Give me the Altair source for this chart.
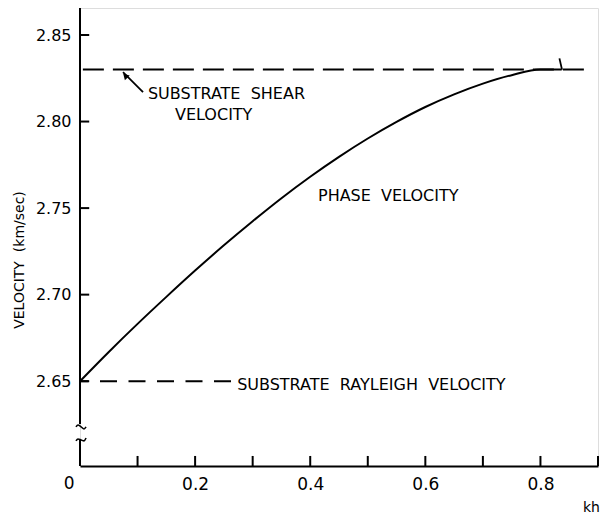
import altair as alt
import pandas as pd

FONT = "DejaVu Sans"

# Phase-velocity dispersion curve (kh vs. km/sec)
kh = [0.0, 0.05, 0.10, 0.15, 0.20, 0.25, 0.30, 0.35, 0.40, 0.45,
      0.50, 0.55, 0.60, 0.65, 0.70, 0.75, 0.80, 0.837]
phase_v = [2.6500, 2.6669, 2.6831, 2.6987, 2.7139, 2.7285, 2.7424, 2.7557,
           2.7681, 2.7796, 2.7902, 2.7998, 2.8084, 2.8157, 2.8219, 2.8268,
           2.8300, 2.8300]

shear_v = 2.83
rayleigh_v = 2.65

y_ticks = [2.65, 2.70, 2.75, 2.80, 2.85]
x_ticks = [0.1, 0.2, 0.3, 0.4, 0.5, 0.6, 0.7, 0.8, 0.9]
x_labels = [0.2, 0.4, 0.6, 0.8]

X_MAX = 0.9
Y_MIN, Y_MAX = 2.601, 2.8656

# axis break pieces
y_axis_upper = [2.8656, 2.6253]
y_axis_lower = [2.6166, Y_MIN]
break_top_x = [-0.007, -0.0035, 0.002, 0.007, 0.0105]
break_top_y = [2.6236, 2.6247, 2.6236, 2.6224, 2.6236]
break_bot_x = [-0.007, -0.0035, 0.002, 0.007, 0.0105]
break_bot_y = [2.6155, 2.6166, 2.6160, 2.6155, 2.6172]

# cutoff marker near the end of the curve
cut_x = [0.8375, 0.833]
cut_y = [2.830, 2.8365]

# arrow to the shear line
arrow_head = (0.0747, 2.8286)
arrow_tail = (0.1095, 2.817)

xs = alt.Scale(domain=[0, X_MAX], nice=False, zero=False)
ys = alt.Scale(domain=[Y_MIN, Y_MAX], nice=False, zero=False)

curve_df = pd.DataFrame({"kh": kh, "v": phase_v})

base_axes = alt.Chart(pd.DataFrame({"kh": [0.0], "v": [Y_MIN]})).mark_point(opacity=0).encode(
    x=alt.X("kh:Q", scale=xs,
            axis=alt.Axis(values=x_labels, format=".1f", ticks=False, domain=True,
                          domainColor="black", domainWidth=2, grid=False,
                          labelFont=FONT, labelFontSize=17, labelColor="black",
                          labelPadding=10, title=None)),
    y=alt.Y("v:Q", scale=ys,
            axis=alt.Axis(values=y_ticks, format=".2f", ticks=False, domain=False,
                          grid=False, labelFont=FONT, labelFontSize=16,
                          labelColor="black", labelPadding=9, title=None)),
)

curve = alt.Chart(curve_df).mark_line(color="black", strokeWidth=2,
                                      interpolate="monotone").encode(
    x=alt.X("kh:Q", scale=xs), y=alt.Y("v:Q", scale=ys))

shear_line = alt.Chart(pd.DataFrame({"x1": [0.005], "x2": [0.88], "v": [shear_v]})).mark_rule(
    color="black", strokeWidth=2, strokeDash=[21, 9]).encode(
    x=alt.X("x1:Q", scale=xs), x2="x2:Q", y=alt.Y("v:Q", scale=ys))

rayleigh_line = alt.Chart(pd.DataFrame({"x1": [0.0], "x2": [0.264], "v": [rayleigh_v]})).mark_rule(
    color="black", strokeWidth=2, strokeDash=[17, 11.5], strokeDashOffset=8.5).encode(
    x=alt.X("x1:Q", scale=xs), x2="x2:Q", y=alt.Y("v:Q", scale=ys))

yaxis_df = pd.DataFrame({"x": [0.0, 0.0], "y1": [y_axis_upper[0], y_axis_lower[0]],
                         "y2": [y_axis_upper[1], y_axis_lower[1]]})
yaxis_line = alt.Chart(yaxis_df).mark_rule(color="black", strokeWidth=2).encode(
    x=alt.X("x:Q", scale=xs), y=alt.Y("y1:Q", scale=ys), y2="y2:Q")

break_df = pd.DataFrame({
    "x": break_top_x + break_bot_x,
    "y": break_top_y + break_bot_y,
    "part": ["top"] * len(break_top_x) + ["bottom"] * len(break_bot_x),
    "o": list(range(len(break_top_x))) * 2,
})
breaks = alt.Chart(break_df).mark_line(color="black", strokeWidth=1.6,
                                       interpolate="monotone").encode(
    x=alt.X("x:Q", scale=xs), y=alt.Y("y:Q", scale=ys), detail="part:N", order="o:Q")

ytick_df = pd.DataFrame({"x1": [0.0] * len(y_ticks), "x2": [0.016] * len(y_ticks), "v": y_ticks})
yticks = alt.Chart(ytick_df).mark_rule(color="black", strokeWidth=2).encode(
    x=alt.X("x1:Q", scale=xs), x2="x2:Q", y=alt.Y("v:Q", scale=ys))

xtick_df = pd.DataFrame({"kh": x_ticks, "y1": [Y_MIN] * len(x_ticks),
                         "y2": [Y_MIN + 0.0058] * len(x_ticks)})
xticks = alt.Chart(xtick_df).mark_rule(color="black", strokeWidth=2).encode(
    x=alt.X("kh:Q", scale=xs), y=alt.Y("y1:Q", scale=ys), y2="y2:Q")

cut_df = pd.DataFrame({"x": cut_x, "y": cut_y})
cut_mark = alt.Chart(cut_df).mark_line(color="black", strokeWidth=1.8).encode(
    x=alt.X("x:Q", scale=xs), y=alt.Y("y:Q", scale=ys))

arrow_df = pd.DataFrame({"x1": [arrow_tail[0]], "y1": [arrow_tail[1]],
                         "x2": [arrow_head[0]], "y2": [arrow_head[1]]})
arrow_shaft = alt.Chart(arrow_df).mark_rule(color="black", strokeWidth=1.8).encode(
    x=alt.X("x1:Q", scale=xs), y=alt.Y("y1:Q", scale=ys), x2="x2:Q", y2="y2:Q")
arrow_tip = alt.Chart(pd.DataFrame({"x": [arrow_head[0] + 0.004], "y": [arrow_head[1] - 0.0022]})).mark_point(
    shape="triangle-up", filled=True, color="black", size=45, angle=316, opacity=1).encode(
    x=alt.X("x:Q", scale=xs), y=alt.Y("y:Q", scale=ys))

# annotation texts
ann_text = ["SUBSTRATE\u00a0\u00a0SHEAR", "VELOCITY", "PHASE\u00a0\u00a0VELOCITY",
            "SUBSTRATE\u00a0\u00a0RAYLEIGH\u00a0\u00a0VELOCITY"]
ann_x = [0.118, 0.165, 0.4135, 0.273]
ann_y = [2.8162, 2.8038, 2.757, 2.6478]
ann_df = pd.DataFrame({"t": ann_text, "x": ann_x, "y": ann_y})
annotations = alt.Chart(ann_df).mark_text(
    font=FONT, fontSize=16, align="left", baseline="middle", color="black").encode(
    x=alt.X("x:Q", scale=xs), y=alt.Y("y:Q", scale=ys), text="t:N")

origin_label = alt.Chart(pd.DataFrame({"x": [-0.019], "y": [2.5905], "t": ["0"]})).mark_text(
    font=FONT, fontSize=17, align="center", baseline="middle", color="black").encode(
    x=alt.X("x:Q", scale=xs), y=alt.Y("y:Q", scale=ys), text="t:N")

y_title = alt.Chart(pd.DataFrame({"t": ["VELOCITY\u00a0\u00a0(km/sec)"]})).mark_text(
    font=FONT, fontSize=14, angle=270, align="center", baseline="middle",
    color="#000000", fill="#000000").encode(
    x=alt.value(-60), y=alt.value(252), text="t:N")

x_title = alt.Chart(pd.DataFrame({"t": ["kh"]})).mark_text(
    font=FONT, fontSize=14, align="left", baseline="middle",
    color="#000000", fill="#000000").encode(
    x=alt.value(503), y=alt.value(500), text="t:N")

chart = alt.layer(
    base_axes, shear_line, rayleigh_line, curve, yaxis_line, breaks, yticks, xticks,
    cut_mark, arrow_shaft, arrow_tip, annotations, origin_label, y_title, x_title,
).properties(
    width=518, height=458,
    autosize=alt.AutoSizeParams(type="none"),
    padding={"left": 80, "top": 8, "right": 2, "bottom": 52},
).configure_view(stroke=None).configure(background="white")

chart.save("out.html", embed_options={"renderer": "svg", "actions": False})
